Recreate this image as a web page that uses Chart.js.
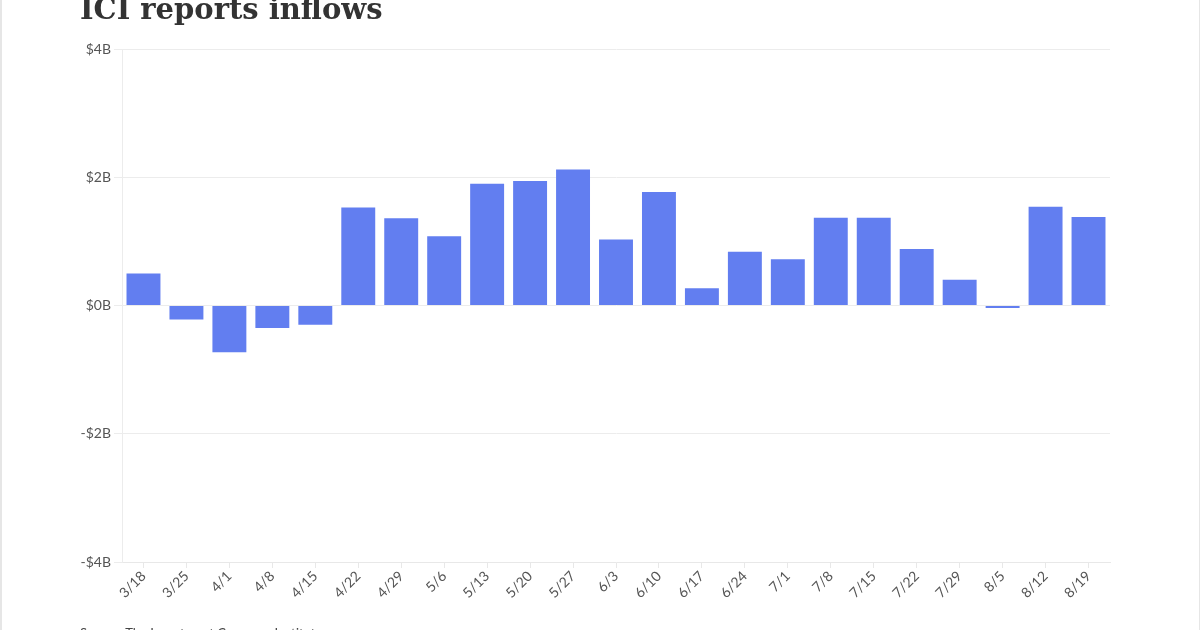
<!DOCTYPE html>
<html>
<head>
<meta charset="utf-8">
<script src="https://cdn.jsdelivr.net/npm/chart.js@4"></script>
<style>
  html, body { margin: 0; padding: 0; background: #fff; }
  #wrap { position: relative; width: 1200px; height: 630px; overflow: hidden; box-sizing: border-box; border-left: 2px solid #e6e6e6; border-right: 1px solid #e6e6e6; }
  #title { position: absolute; left: 78px; top: -8px; font-family: "DejaVu Serif", serif; font-weight: bold; font-size: 29px; color: #333; white-space: nowrap; }
  #source { position: absolute; left: 78px; top: 625px; font-family: Lato, sans-serif; font-size: 13px; color: #444; white-space: nowrap; }
  canvas { position: absolute; left: 0; top: 0; }
</style>
</head>
<body>
<div id="wrap">
  <canvas id="flowChart" width="1197" height="630"></canvas>
  <div id="title">ICI reports inflows</div>
  <div id="source">Source: The Investment Company Institute</div>
</div>
<script>
let weeks = ['3/18', '3/25', '4/1', '4/8', '4/15', '4/22', '4/29', '5/6', '5/13', '5/20', '5/27', '6/3',
    '6/10', '6/17', '6/24', '7/1', '7/8', '7/15', '7/22', '7/29', '8/5', '8/12', '8/19'];
let inflows = [0.50, -0.22, -0.73, -0.35, -0.30, 1.53, 1.36, 1.08, 1.90, 1.94, 2.12, 1.03,
    1.77, 0.27, 0.84, 0.72, 1.37, 1.37, 0.88, 0.40, -0.04, 1.54, 1.38];
let yTicks = [-4, -2, 0, 2, 4];

let ctx = document.getElementById('flowChart').getContext('2d');
let flowChart = new Chart(ctx, {
    type: 'bar',
    data: {
        labels: weeks,
        datasets: [{
            label: 'Inflows ($B)',
            data: inflows,
            backgroundColor: '#627ef0',
            barPercentage: 0.79,
            categoryPercentage: 1
        }]
    },
    options: {
        responsive: false,
        animation: false,
        layout: {
            padding: { left: 0, right: 89, top: 49, bottom: 0 }
        },
        plugins: {
            legend: { display: false },
            tooltip: { enabled: false }
        },
        scales: {
            x: {
                grid: {
                    display: true,
                    offset: false,
                    drawOnChartArea: false,
                    drawTicks: true,
                    tickLength: 6,
                    color: '#e8e8e8'
                },
                border: { color: '#e8e8e8' },
                ticks: {
                    color: '#555',
                    font: { family: 'Lato', size: 14 },
                    maxRotation: 45,
                    minRotation: 45,
                    padding: 0
                },
                afterFit: function (scale) { scale.height = 68; }
            },
            y: {
                min: -4,
                max: 4,
                afterBuildTicks: function (scale) {
                    scale.ticks = yTicks.map(v => ({ value: v }));
                },
                grid: {
                    color: '#ececec',
                    tickLength: 8
                },
                border: { color: '#ececec' },
                ticks: {
                    color: '#555',
                    font: { family: 'Lato', size: 14 },
                    padding: 3,
                    callback: v => (v < 0 ? '-$' : '$') + Math.abs(v) + 'B'
                },
                afterFit: function (scale) { scale.width = 120; }
            }
        }
    }
});
</script>
</body>
</html>
